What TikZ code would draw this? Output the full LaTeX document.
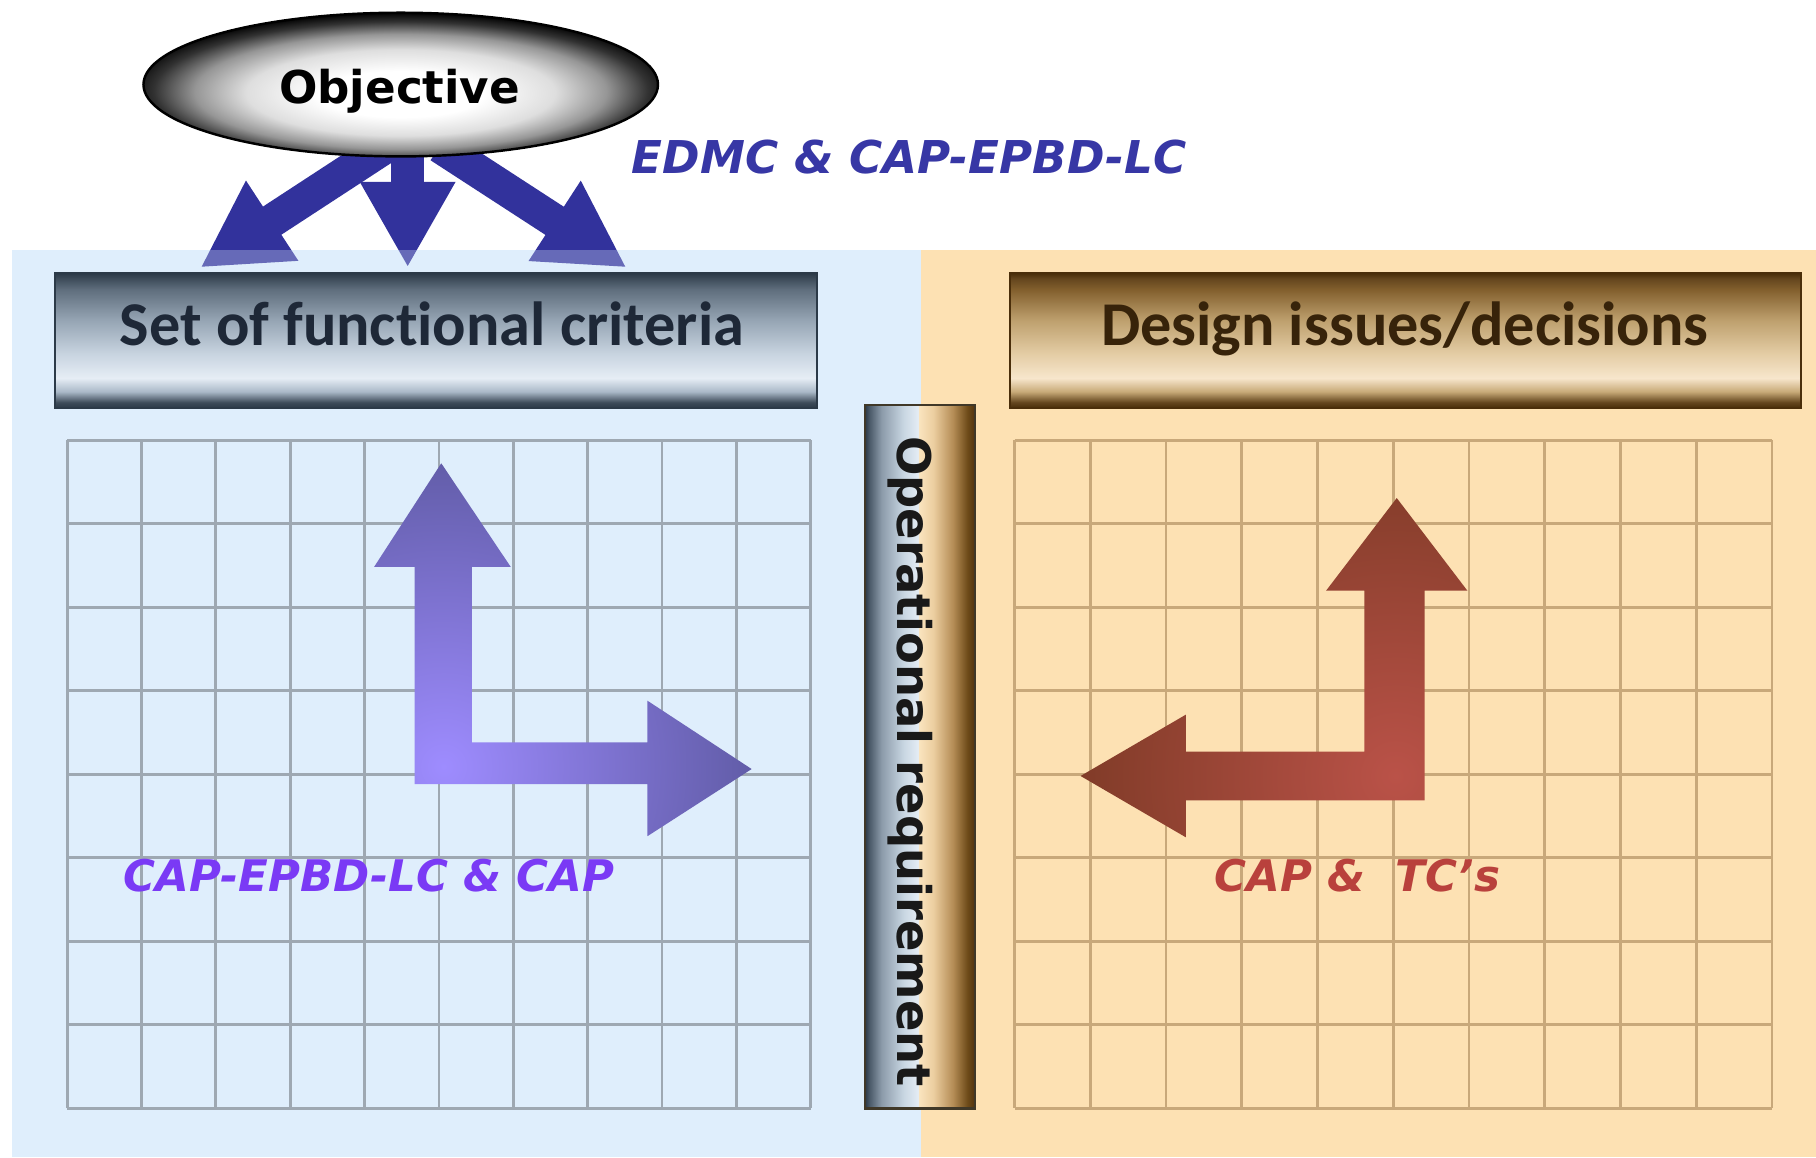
\documentclass[tikz,border=0pt]{standalone}
\usepackage{fontspec}
\newfontfamily\carlito[Ligatures=NoCommon]{Carlito}
\newfontfamily\djv{DejaVu Sans}
\usetikzlibrary{shapes.geometric,arrows.meta}
\definecolor{bluep}{RGB}{223,238,252}
\definecolor{orangep}{RGB}{253,225,179}
\definecolor{gridL}{RGB}{158,168,178}
\definecolor{gridR}{RGB}{200,168,122}
\definecolor{arrowblue}{RGB}{50,50,156}
\definecolor{edmcblue}{RGB}{55,55,165}
\definecolor{lavlight}{RGB}{158,140,255}
\definecolor{lavdark}{RGB}{92,88,160}
\definecolor{redlight}{RGB}{186,82,72}
\definecolor{reddark}{RGB}{125,58,38}
\definecolor{violettext}{RGB}{122,58,245}
\definecolor{redtext}{RGB}{185,65,60}
\definecolor{settext}{RGB}{30,40,55}
\definecolor{destext}{RGB}{55,35,10}
% set box shading colours
\definecolor{sA}{RGB}{44,58,72}
\definecolor{sB}{RGB}{62,76,90}
\definecolor{sC}{RGB}{170,185,200}
\definecolor{sD}{RGB}{230,237,245}
\definecolor{sE}{RGB}{200,212,224}
\definecolor{sF}{RGB}{150,165,180}
\definecolor{sG}{RGB}{95,110,125}
% design box colours
\definecolor{dA}{RGB}{74,46,10}
\definecolor{dB}{RGB}{100,70,30}
\definecolor{dC}{RGB}{200,170,120}
\definecolor{dD}{RGB}{247,230,204}
\definecolor{dE}{RGB}{228,205,165}
\definecolor{dF}{RGB}{190,160,110}
\definecolor{dG}{RGB}{130,95,45}
% operational box colours
\definecolor{oA}{RGB}{44,56,70}
\definecolor{oB}{RGB}{75,90,105}
\definecolor{oC}{RGB}{140,155,170}
\definecolor{oD}{RGB}{200,214,226}
\definecolor{oE}{RGB}{228,236,244}
\definecolor{oF}{RGB}{250,228,190}
\definecolor{oG}{RGB}{236,206,160}
\definecolor{oH}{RGB}{180,140,85}
\definecolor{oI}{RGB}{110,75,25}
\definecolor{oJ}{RGB}{80,50,15}
\definecolor{objmid}{RGB}{222,222,222}
\definecolor{objmid2}{RGB}{150,150,150}
\definecolor{objdark}{RGB}{50,50,50}
\definecolor{opline}{RGB}{64,56,40}
\pgfdeclareverticalshading{setshade}{100bp}{color(0bp)=(sA); color(25bp)=(sA); color(27bp)=(sB); color(31bp)=(sC); color(36bp)=(sD); color(45bp)=(sE); color(57.5bp)=(sF); color(69bp)=(sG); color(73bp)=(sB); color(75bp)=(sA); color(100bp)=(sA)}
\pgfdeclareverticalshading{desshade}{100bp}{color(0bp)=(dA); color(25bp)=(dA); color(27bp)=(dB); color(31bp)=(dC); color(36bp)=(dD); color(45bp)=(dE); color(57.5bp)=(dF); color(69bp)=(dG); color(73bp)=(dB); color(75bp)=(dA); color(100bp)=(dA)}
\pgfdeclarehorizontalshading{opshade}{100bp}{color(0bp)=(oA); color(25bp)=(oA); color(27bp)=(oB); color(32.5bp)=(oC); color(42.5bp)=(oD); color(49bp)=(oE); color(49.5bp)=(oF); color(56bp)=(oG); color(65bp)=(oH); color(71.5bp)=(oI); color(75bp)=(oJ); color(100bp)=(oJ)}
\pgfdeclareradialshading{objshade}{\pgfpoint{0bp}{-4bp}}{color(0bp)=(white); color(8bp)=(white); color(15bp)=(objmid); color(20bp)=(objmid2); color(24bp)=(objdark); color(27bp)=(black); color(50bp)=(black)}
\begin{document}
\begin{tikzpicture}[x=0.01cm,y=-0.01cm,
  gridlineL/.style={draw=gridL,line width=0.7pt},
  gridlineR/.style={draw=gridR,line width=0.7pt},
  bigarrow/.style={draw=arrowblue,line width=0.29cm,shorten <=-0.15cm,-{Triangle[length=0.74cm,width=0.77cm]}},
  italabel/.style={anchor=base,font=\djv\bfseries\itshape\fontsize{10.7pt}{13pt}\selectfont},
  titletext/.style={anchor=base,font=\carlito\bfseries\fontsize{15.3pt}{18pt}\selectfont}]
\useasboundingbox (0,0) rectangle (1568,999);
\fill[white] (0,0) rectangle (1568,999);
% panels
\fill[bluep] (10,216) rectangle (795,999);
\fill[orangep] (795,216) rectangle (1568,999);
% grids
\foreach \i in {0,...,10} {\draw[gridlineL] ({58+64.2*\i},380) -- ({58+64.2*\i},957);}
\foreach \j in {0,...,8} {\draw[gridlineL] (58,{380+72.125*\j}) -- (700,{380+72.125*\j});}
\foreach \i in {0,...,10} {\draw[gridlineR] ({876+65.4*\i},380) -- ({876+65.4*\i},957);}
\foreach \j in {0,...,8} {\draw[gridlineR] (876,{380+72.125*\j}) -- (1530,{380+72.125*\j});}
% left L arrow
\begin{scope}
\clip (358,677) -- (358,489.5) -- (323,489.5) -- (381,400) -- (441,489.5) -- (407.5,489.5) -- (407.5,641) -- (559,641) -- (559,605) -- (649,664) -- (559,722) -- (559,677) -- cycle;
\shade[inner color=lavlight,outer color=lavdark] (383,662) circle (2.9cm);
\end{scope}
% right L arrow
\begin{scope}
\clip (1230,691) -- (1230,510) -- (1267,510) -- (1206,430) -- (1145,510) -- (1178,510) -- (1178,649) -- (1024,649) -- (1024,617) -- (933,670) -- (1024,723) -- (1024,691) -- cycle;
\shade[inner color=redlight,outer color=reddark] (1205,670) circle (2.9cm);
\end{scope}
% labels in grids
\node[italabel,text=violettext] (lblL) at (318.5,770) {CAP-EPBD-LC \& CAP};
\node[italabel,text=redtext] (lblR) at (1172,770) {CAP \& \ TC’s};
% objective ellipse and arrows
\node[ellipse,minimum width=4.44cm,minimum height=1.24cm,inner sep=0pt] (obj) at (346,73) {};
\coordinate (tL) at (173,231);
\coordinate (tM) at (352,231);
\coordinate (tR) at (541,231);
\draw[bigarrow] (obj.247) -- (tL);
\draw[bigarrow] (obj.south -| tM) -- (tM);
\draw[bigarrow] (obj.307) -- (tR);
\fill[bluep,opacity=0.3] (10,216) rectangle (795,237);
\node[ellipse,minimum width=4.44cm,minimum height=1.24cm,inner sep=0pt,shade,shading=objshade,draw=black,line width=0.6pt] (objshape) at (346,73) {};
\node[anchor=base,font=\djv\bfseries\fontsize{11.1pt}{13pt}\selectfont] (objtxt) at (345,89) {Objective};
\node[anchor=base,text=edmcblue,font=\djv\bfseries\itshape\fontsize{11.1pt}{13pt}\selectfont] (edmc) at (785,150) {EDMC \& CAP-EPBD-LC};
% title boxes
\node[rectangle,minimum width=6.57cm,minimum height=1.16cm,inner sep=0pt,shade,shading=setshade,draw=sA,line width=0.5pt] (setbox) at (376.5,294) {};
\node[titletext,text=settext] (settxt) at (373,298) {Set of functional criteria};
\node[rectangle,minimum width=6.83cm,minimum height=1.16cm,inner sep=0pt,shade,shading=desshade,draw=dA,line width=0.5pt] (desbox) at (1213.5,294) {};
\node[titletext,text=destext] (destxt) at (1213,298) {Design issues/decisions};
% operational requirement
\node[rectangle,minimum width=0.95cm,minimum height=6.07cm,inner sep=0pt,shade,shading=opshade,draw=opline,line width=0.6pt] (opbox) at (794.5,653.5) {};
\node[rotate=-90,font=\djv\bfseries\fontsize{11.4pt}{13pt}\selectfont,text=black!90] (optxt) at (786,657.5) {Operational requirement};
\end{tikzpicture}
\end{document}
